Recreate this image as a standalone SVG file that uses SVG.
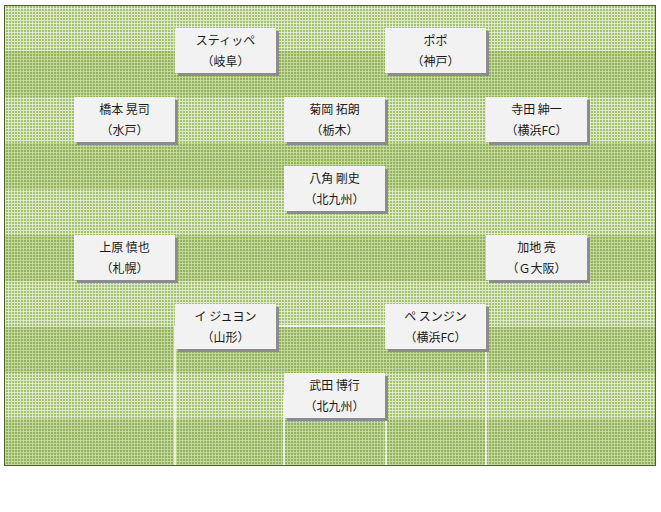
<svg xmlns="http://www.w3.org/2000/svg" width="661" height="512" viewBox="0 0 661 512">
<style>
.box{fill:#f2f2f2}
.sh{fill:#8c8c8c}
.t{font-family:"Noto Sans CJK JP","Noto Sans",sans-serif;font-size:12px;fill:#1a1a1a;text-anchor:middle}
.ln{stroke:#ffffff;stroke-width:1.5;fill:none}
</style>
<defs>
<pattern id="pl" width="3" height="3" patternUnits="userSpaceOnUse"><rect width="3" height="3" fill="#dde9c4"/><rect width="2" height="2" fill="#a3c173"/></pattern>
<pattern id="pd" width="3" height="3" patternUnits="userSpaceOnUse"><rect width="3" height="3" fill="#c2d899"/><rect width="2" height="2" fill="#93b261"/></pattern>
</defs>
<rect width="661" height="512" fill="#ffffff"/>
<g id="field">
<rect x="4" y="5" width="652" height="461" fill="url(#pl)"/>
<rect x="4" y="51" width="652" height="46" fill="url(#pd)"/>
<rect x="4" y="143" width="652" height="46" fill="url(#pd)"/>
<rect x="4" y="235" width="652" height="46" fill="url(#pd)"/>
<rect x="4" y="327" width="652" height="46" fill="url(#pd)"/>
<rect x="4" y="419" width="652" height="47" fill="url(#pd)"/>
<path class="ln" d="M175,466 V326 H486 V466"/>
<path class="ln" d="M284,466 V395 H386 V466"/>
<rect x="4.5" y="5.5" width="651" height="460" fill="none" stroke="#4d5f2e" stroke-width="1"/>
</g>
<g id="connectors"></g>
<g id="n1"><rect class="sh" x="178" y="31" width="101" height="45"/><rect class="box" x="175" y="28" width="101" height="45"/><text class="t" x="225.5" y="45">スティッペ</text><text class="t" x="225.5" y="66">（岐阜）</text></g>
<g id="n2"><rect class="sh" x="388" y="31" width="101" height="45"/><rect class="box" x="385" y="28" width="101" height="45"/><text class="t" x="435.5" y="45">ポポ</text><text class="t" x="435.5" y="66">（神戸）</text></g>
<g id="n3"><rect class="sh" x="77" y="100" width="101" height="45"/><rect class="box" x="74" y="97" width="101" height="45"/><text class="t" x="124.5" y="114">橋本 晃司</text><text class="t" x="124.5" y="135">（水戸）</text></g>
<g id="n4"><rect class="sh" x="287" y="100" width="101" height="45"/><rect class="box" x="284" y="97" width="101" height="45"/><text class="t" x="334.5" y="114">菊岡 拓朗</text><text class="t" x="334.5" y="135">（栃木）</text></g>
<g id="n5"><rect class="sh" x="489" y="100" width="101" height="45"/><rect class="box" x="486" y="97" width="101" height="45"/><text class="t" x="536.5" y="114">寺田 紳一</text><text class="t" x="536.5" y="135">（横浜FC）</text></g>
<g id="n6"><rect class="sh" x="287" y="169" width="101" height="45"/><rect class="box" x="284" y="166" width="101" height="45"/><text class="t" x="334.5" y="183">八角 剛史</text><text class="t" x="334.5" y="204">（北九州）</text></g>
<g id="n7"><rect class="sh" x="77" y="238" width="101" height="45"/><rect class="box" x="74" y="235" width="101" height="45"/><text class="t" x="124.5" y="252">上原 慎也</text><text class="t" x="124.5" y="273">（札幌）</text></g>
<g id="n8"><rect class="sh" x="489" y="238" width="101" height="45"/><rect class="box" x="486" y="235" width="101" height="45"/><text class="t" x="536.5" y="252">加地 亮</text><text class="t" x="536.5" y="273">（Ｇ大阪）</text></g>
<g id="n9"><rect class="sh" x="178" y="307" width="101" height="45"/><rect class="box" x="175" y="304" width="101" height="45"/><text class="t" x="225.5" y="321">イ ジュヨン</text><text class="t" x="225.5" y="342">（山形）</text></g>
<g id="n10"><rect class="sh" x="388" y="307" width="101" height="45"/><rect class="box" x="385" y="304" width="101" height="45"/><text class="t" x="435.5" y="321">ペ スンジン</text><text class="t" x="435.5" y="342">（横浜FC）</text></g>
<g id="n11"><rect class="sh" x="287" y="376" width="101" height="45"/><rect class="box" x="284" y="373" width="101" height="45"/><text class="t" x="334.5" y="390">武田 博行</text><text class="t" x="334.5" y="411">（北九州）</text></g>
</svg>
